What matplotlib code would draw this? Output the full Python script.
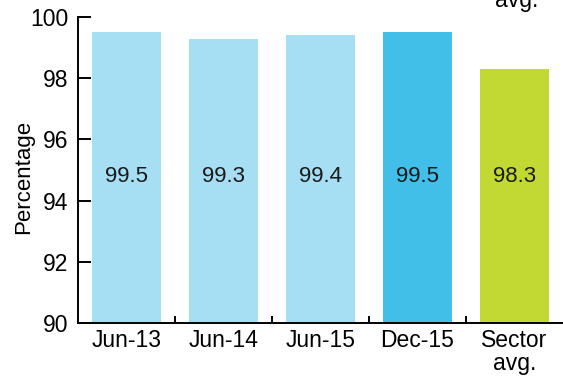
import matplotlib
matplotlib.use('Agg')
import matplotlib.pyplot as plt

plt.rcParams['font.family'] = ['Liberation Sans', 'DejaVu Sans']

# 数据
periods = ['Jun-13', 'Jun-14', 'Jun-15', 'Dec-15', 'Sector\navg.']
values = [99.5, 99.3, 99.4, 99.5, 98.3]
colors = ['#A6DEF3', '#A6DEF3', '#A6DEF3', '#41BFE9', '#C3D933']

fig = plt.figure(figsize=(5.63, 3.80), dpi=100)
ax = fig.add_axes([0.1385, 0.15, 0.8615, 0.805])

x = range(len(periods))
ax.bar(x, values, width=0.72, color=colors, zorder=2)
for i, v in enumerate(values):
    ax.text(i, 94.8, f'{v:.1f}', ha='center', va='center', fontsize=16, color='#1a1a1a')

ax.set_ylim(90, 100)
ax.set_xlim(-0.5, 4.5)
ax.set_yticks([90, 92, 94, 96, 98, 100])
ax.tick_params(axis='y', direction='in', length=9, width=1.4, labelsize=16.5, pad=7)

# x轴刻度放在柱子之间
ax.set_xticks(x)
ax.set_xticklabels(periods, fontsize=16.5, linespacing=1.05)
ax.tick_params(axis='x', length=0, pad=4)
ax.set_xticks([0.5, 1.5, 2.5, 3.5], minor=True)
ax.tick_params(axis='x', which='minor', direction='in', length=5, width=1.4)

for s in ['top', 'right']:
    ax.spines[s].set_visible(False)
for s in ['left', 'bottom']:
    ax.spines[s].set_linewidth(1.4)

ax.set_ylabel('Percentage', fontsize=16, va='center')
ax.yaxis.set_label_coords(-0.113, 0.477)

fig.text(517 / 563, 1 - 1 / 380, 'avg.', ha='center', va='center', fontsize=16.5)

fig.savefig('out.png', dpi=100)
